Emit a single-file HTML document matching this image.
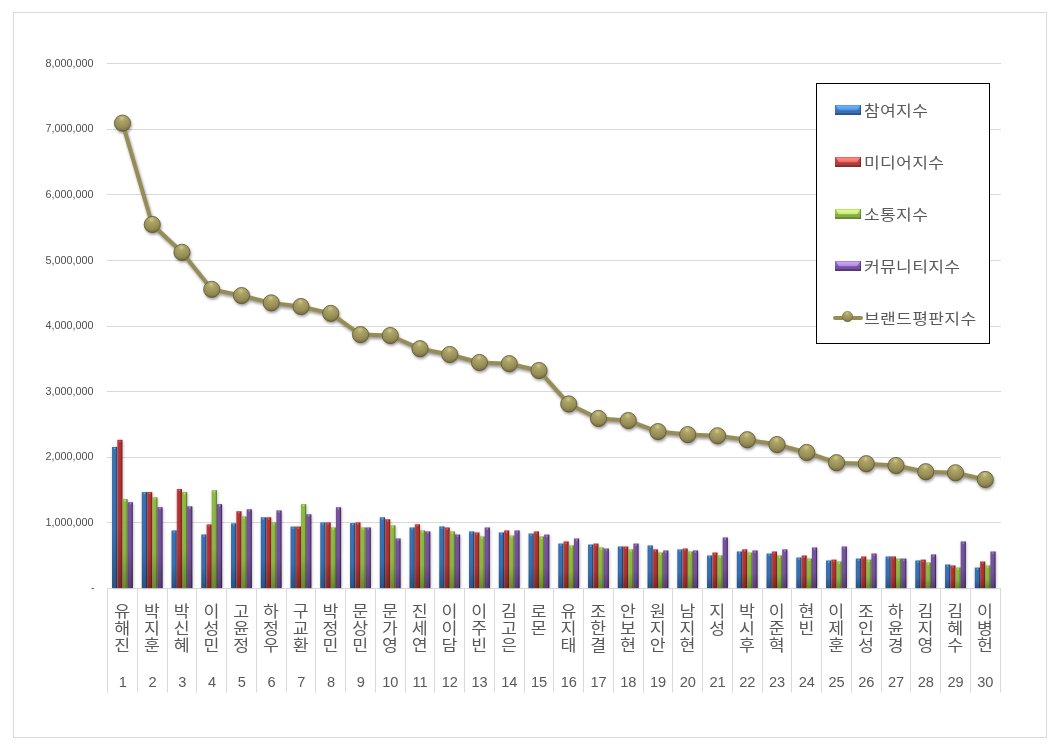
<!DOCTYPE html>
<html lang="ko"><head><meta charset="utf-8"><title>브랜드평판지수</title>
<style>html,body{margin:0;padding:0;background:#fff}body{width:1061px;height:748px;overflow:hidden}svg{display:block}text{font-family:'Liberation Sans','Noto Sans CJK KR',sans-serif}</style></head><body>
<svg width="1061" height="748" viewBox="0 0 1061 748">
<defs>
<linearGradient id="gb" x1="0" y1="0" x2="1" y2="0"><stop offset="0" stop-color="#33639f"/><stop offset="0.25" stop-color="#3874b8"/><stop offset="0.7" stop-color="#3571b5"/><stop offset="0.88" stop-color="#264672"/><stop offset="1" stop-color="#264672"/></linearGradient>
<linearGradient id="gr" x1="0" y1="0" x2="1" y2="0"><stop offset="0" stop-color="#b55a58"/><stop offset="0.25" stop-color="#b93535"/><stop offset="0.7" stop-color="#ae2f2f"/><stop offset="0.88" stop-color="#7e2422"/><stop offset="1" stop-color="#7e2422"/></linearGradient>
<linearGradient id="gg" x1="0" y1="0" x2="1" y2="0"><stop offset="0" stop-color="#84ab3e"/><stop offset="0.25" stop-color="#92bd45"/><stop offset="0.7" stop-color="#8bb53f"/><stop offset="0.88" stop-color="#62802e"/><stop offset="1" stop-color="#62802e"/></linearGradient>
<linearGradient id="gp" x1="0" y1="0" x2="1" y2="0"><stop offset="0" stop-color="#6a4a8e"/><stop offset="0.25" stop-color="#7a55a2"/><stop offset="0.7" stop-color="#734f9a"/><stop offset="0.88" stop-color="#452e64"/><stop offset="1" stop-color="#452e64"/></linearGradient>
<radialGradient id="mk" cx="0.47" cy="0.2" r="0.8"><stop offset="0" stop-color="#d0c98a"/><stop offset="0.24" stop-color="#aca468"/><stop offset="0.72" stop-color="#958c54"/><stop offset="0.92" stop-color="#7d7445"/><stop offset="1" stop-color="#625a34"/></radialGradient>
<filter id="sh" x="-20%" y="-20%" width="140%" height="140%"><feGaussianBlur stdDeviation="1.6"/></filter>
<filter id="sh2" x="-50%" y="-10%" width="200%" height="120%"><feGaussianBlur stdDeviation="1.8"/></filter>
<linearGradient id="sb" x1="0" y1="0" x2="0" y2="1"><stop offset="0" stop-color="#63a6f2"/><stop offset="0.45" stop-color="#63a6f2"/><stop offset="0.5" stop-color="#3b70b4"/><stop offset="1" stop-color="#2f5c98"/></linearGradient>
<linearGradient id="sr" x1="0" y1="0" x2="0" y2="1"><stop offset="0" stop-color="#f26b68"/><stop offset="0.45" stop-color="#f26b68"/><stop offset="0.5" stop-color="#c03c3a"/><stop offset="1" stop-color="#9b2f2d"/></linearGradient>
<linearGradient id="sg" x1="0" y1="0" x2="0" y2="1"><stop offset="0" stop-color="#c6ee6c"/><stop offset="0.45" stop-color="#c6ee6c"/><stop offset="0.5" stop-color="#94c043"/><stop offset="1" stop-color="#769a35"/></linearGradient>
<linearGradient id="sp" x1="0" y1="0" x2="0" y2="1"><stop offset="0" stop-color="#a783dc"/><stop offset="0.45" stop-color="#a783dc"/><stop offset="0.5" stop-color="#7a55a6"/><stop offset="1" stop-color="#5f4185"/></linearGradient>
<linearGradient id="dk" x1="0" y1="0" x2="0" y2="1"><stop offset="0" stop-color="#000" stop-opacity="0"/><stop offset="0.6" stop-color="#000" stop-opacity="0.03"/><stop offset="1" stop-color="#000" stop-opacity="0.27"/></linearGradient>
</defs>
<rect x="0" y="0" width="1061" height="748" fill="#fff"/>
<rect x="13.5" y="12.5" width="1033" height="725" fill="#fff" stroke="#d9d9d9" stroke-width="1"/>
<line x1="107.0" y1="588.5" x2="1001.0" y2="588.5" stroke="#d9d9d9" stroke-width="1"/>
<line x1="107.0" y1="522.5" x2="1001.0" y2="522.5" stroke="#d9d9d9" stroke-width="1"/>
<line x1="107.0" y1="457.5" x2="1001.0" y2="457.5" stroke="#d9d9d9" stroke-width="1"/>
<line x1="107.0" y1="391.5" x2="1001.0" y2="391.5" stroke="#d9d9d9" stroke-width="1"/>
<line x1="107.0" y1="326.5" x2="1001.0" y2="326.5" stroke="#d9d9d9" stroke-width="1"/>
<line x1="107.0" y1="260.5" x2="1001.0" y2="260.5" stroke="#d9d9d9" stroke-width="1"/>
<line x1="107.0" y1="194.5" x2="1001.0" y2="194.5" stroke="#d9d9d9" stroke-width="1"/>
<line x1="107.0" y1="129.5" x2="1001.0" y2="129.5" stroke="#d9d9d9" stroke-width="1"/>
<line x1="107.0" y1="63.5" x2="1001.0" y2="63.5" stroke="#d9d9d9" stroke-width="1"/>
<text x="94.40" y="591.30" font-size="10.5" fill="#4d4d4d" text-anchor="end">-</text>
<text transform="translate(93.60 525.60) scale(1.030 1)" font-size="10.5" fill="#4d4d4d" text-anchor="end">1,000,000</text>
<text transform="translate(93.60 459.60) scale(1.030 1)" font-size="10.5" fill="#4d4d4d" text-anchor="end">2,000,000</text>
<text transform="translate(93.60 394.60) scale(1.030 1)" font-size="10.5" fill="#4d4d4d" text-anchor="end">3,000,000</text>
<text transform="translate(93.60 328.60) scale(1.030 1)" font-size="10.5" fill="#4d4d4d" text-anchor="end">4,000,000</text>
<text transform="translate(93.60 263.60) scale(1.030 1)" font-size="10.5" fill="#4d4d4d" text-anchor="end">5,000,000</text>
<text transform="translate(93.60 197.60) scale(1.030 1)" font-size="10.5" fill="#4d4d4d" text-anchor="end">6,000,000</text>
<text transform="translate(93.60 131.60) scale(1.030 1)" font-size="10.5" fill="#4d4d4d" text-anchor="end">7,000,000</text>
<text transform="translate(93.60 66.60) scale(1.030 1)" font-size="10.5" fill="#4d4d4d" text-anchor="end">8,000,000</text>
<line x1="107.5" y1="588.5" x2="107.5" y2="692.5" stroke="#d9d9d9" stroke-width="1"/>
<line x1="137.5" y1="588.5" x2="137.5" y2="692.5" stroke="#d9d9d9" stroke-width="1"/>
<line x1="167.5" y1="588.5" x2="167.5" y2="692.5" stroke="#d9d9d9" stroke-width="1"/>
<line x1="196.5" y1="588.5" x2="196.5" y2="692.5" stroke="#d9d9d9" stroke-width="1"/>
<line x1="226.5" y1="588.5" x2="226.5" y2="692.5" stroke="#d9d9d9" stroke-width="1"/>
<line x1="256.5" y1="588.5" x2="256.5" y2="692.5" stroke="#d9d9d9" stroke-width="1"/>
<line x1="286.5" y1="588.5" x2="286.5" y2="692.5" stroke="#d9d9d9" stroke-width="1"/>
<line x1="315.5" y1="588.5" x2="315.5" y2="692.5" stroke="#d9d9d9" stroke-width="1"/>
<line x1="345.5" y1="588.5" x2="345.5" y2="692.5" stroke="#d9d9d9" stroke-width="1"/>
<line x1="375.5" y1="588.5" x2="375.5" y2="692.5" stroke="#d9d9d9" stroke-width="1"/>
<line x1="405.5" y1="588.5" x2="405.5" y2="692.5" stroke="#d9d9d9" stroke-width="1"/>
<line x1="434.5" y1="588.5" x2="434.5" y2="692.5" stroke="#d9d9d9" stroke-width="1"/>
<line x1="464.5" y1="588.5" x2="464.5" y2="692.5" stroke="#d9d9d9" stroke-width="1"/>
<line x1="494.5" y1="588.5" x2="494.5" y2="692.5" stroke="#d9d9d9" stroke-width="1"/>
<line x1="524.5" y1="588.5" x2="524.5" y2="692.5" stroke="#d9d9d9" stroke-width="1"/>
<line x1="553.5" y1="588.5" x2="553.5" y2="692.5" stroke="#d9d9d9" stroke-width="1"/>
<line x1="583.5" y1="588.5" x2="583.5" y2="692.5" stroke="#d9d9d9" stroke-width="1"/>
<line x1="613.5" y1="588.5" x2="613.5" y2="692.5" stroke="#d9d9d9" stroke-width="1"/>
<line x1="643.5" y1="588.5" x2="643.5" y2="692.5" stroke="#d9d9d9" stroke-width="1"/>
<line x1="672.5" y1="588.5" x2="672.5" y2="692.5" stroke="#d9d9d9" stroke-width="1"/>
<line x1="702.5" y1="588.5" x2="702.5" y2="692.5" stroke="#d9d9d9" stroke-width="1"/>
<line x1="732.5" y1="588.5" x2="732.5" y2="692.5" stroke="#d9d9d9" stroke-width="1"/>
<line x1="762.5" y1="588.5" x2="762.5" y2="692.5" stroke="#d9d9d9" stroke-width="1"/>
<line x1="791.5" y1="588.5" x2="791.5" y2="692.5" stroke="#d9d9d9" stroke-width="1"/>
<line x1="821.5" y1="588.5" x2="821.5" y2="692.5" stroke="#d9d9d9" stroke-width="1"/>
<line x1="851.5" y1="588.5" x2="851.5" y2="692.5" stroke="#d9d9d9" stroke-width="1"/>
<line x1="881.5" y1="588.5" x2="881.5" y2="692.5" stroke="#d9d9d9" stroke-width="1"/>
<line x1="910.5" y1="588.5" x2="910.5" y2="692.5" stroke="#d9d9d9" stroke-width="1"/>
<line x1="940.5" y1="588.5" x2="940.5" y2="692.5" stroke="#d9d9d9" stroke-width="1"/>
<line x1="970.5" y1="588.5" x2="970.5" y2="692.5" stroke="#d9d9d9" stroke-width="1"/>
<line x1="1000.5" y1="588.5" x2="1000.5" y2="692.5" stroke="#d9d9d9" stroke-width="1"/>
<g filter="url(#sh2)" fill="#000" fill-opacity="0.28">
<rect x="112.67" y="447.95" width="5.20" height="140.05"/>
<rect x="117.87" y="440.79" width="5.20" height="147.21"/>
<rect x="123.07" y="500.18" width="5.20" height="87.82"/>
<rect x="128.27" y="503.20" width="5.20" height="84.80"/>
<rect x="142.42" y="493.10" width="5.20" height="94.90"/>
<rect x="147.62" y="493.10" width="5.20" height="94.90"/>
<rect x="152.82" y="498.28" width="5.20" height="89.72"/>
<rect x="158.02" y="508.19" width="5.20" height="79.81"/>
<rect x="172.17" y="531.42" width="5.20" height="56.58"/>
<rect x="177.37" y="490.08" width="5.20" height="97.92"/>
<rect x="182.57" y="493.10" width="5.20" height="94.90"/>
<rect x="187.77" y="507.34" width="5.20" height="80.66"/>
<rect x="201.92" y="535.49" width="5.20" height="52.51"/>
<rect x="207.12" y="525.38" width="5.20" height="62.62"/>
<rect x="212.32" y="491.19" width="5.20" height="96.81"/>
<rect x="217.52" y="505.17" width="5.20" height="82.83"/>
<rect x="231.67" y="524.33" width="5.20" height="63.67"/>
<rect x="236.87" y="512.26" width="5.20" height="75.74"/>
<rect x="242.07" y="517.44" width="5.20" height="70.56"/>
<rect x="247.27" y="510.29" width="5.20" height="77.71"/>
<rect x="261.43" y="518.30" width="5.20" height="69.70"/>
<rect x="266.63" y="518.30" width="5.20" height="69.70"/>
<rect x="271.83" y="523.42" width="5.20" height="64.58"/>
<rect x="277.03" y="511.41" width="5.20" height="76.59"/>
<rect x="291.18" y="527.55" width="5.20" height="60.45"/>
<rect x="296.38" y="527.55" width="5.20" height="60.45"/>
<rect x="301.58" y="505.17" width="5.20" height="82.83"/>
<rect x="306.78" y="515.28" width="5.20" height="72.72"/>
<rect x="320.93" y="523.42" width="5.20" height="64.58"/>
<rect x="326.13" y="523.42" width="5.20" height="64.58"/>
<rect x="331.33" y="528.47" width="5.20" height="59.53"/>
<rect x="336.53" y="508.26" width="5.20" height="79.74"/>
<rect x="350.68" y="524.14" width="5.20" height="63.86"/>
<rect x="355.88" y="523.42" width="5.20" height="64.58"/>
<rect x="361.08" y="528.47" width="5.20" height="59.53"/>
<rect x="366.28" y="528.47" width="5.20" height="59.53"/>
<rect x="380.43" y="518.30" width="5.20" height="69.70"/>
<rect x="385.63" y="520.33" width="5.20" height="67.67"/>
<rect x="390.83" y="526.37" width="5.20" height="61.63"/>
<rect x="396.03" y="539.49" width="5.20" height="48.51"/>
<rect x="410.18" y="528.47" width="5.20" height="59.53"/>
<rect x="415.38" y="525.32" width="5.20" height="62.68"/>
<rect x="420.58" y="531.42" width="5.20" height="56.58"/>
<rect x="425.78" y="532.41" width="5.20" height="55.59"/>
<rect x="439.93" y="527.42" width="5.20" height="60.58"/>
<rect x="445.13" y="528.47" width="5.20" height="59.53"/>
<rect x="450.33" y="532.41" width="5.20" height="55.59"/>
<rect x="455.53" y="535.56" width="5.20" height="52.44"/>
<rect x="469.68" y="532.41" width="5.20" height="55.59"/>
<rect x="474.88" y="533.46" width="5.20" height="54.54"/>
<rect x="480.08" y="537.46" width="5.20" height="50.54"/>
<rect x="485.28" y="528.47" width="5.20" height="59.53"/>
<rect x="499.43" y="533.46" width="5.20" height="54.54"/>
<rect x="504.63" y="531.42" width="5.20" height="56.58"/>
<rect x="509.83" y="536.54" width="5.20" height="51.46"/>
<rect x="515.03" y="531.42" width="5.20" height="56.58"/>
<rect x="529.18" y="534.51" width="5.20" height="53.49"/>
<rect x="534.38" y="532.41" width="5.20" height="55.59"/>
<rect x="539.58" y="537.46" width="5.20" height="50.54"/>
<rect x="544.78" y="535.56" width="5.20" height="52.44"/>
<rect x="558.93" y="544.55" width="5.20" height="43.45"/>
<rect x="564.13" y="542.45" width="5.20" height="45.55"/>
<rect x="569.33" y="546.45" width="5.20" height="41.55"/>
<rect x="574.53" y="539.49" width="5.20" height="48.51"/>
<rect x="588.68" y="545.53" width="5.20" height="42.47"/>
<rect x="593.88" y="544.55" width="5.20" height="43.45"/>
<rect x="599.08" y="548.48" width="5.20" height="39.52"/>
<rect x="604.28" y="549.53" width="5.20" height="38.47"/>
<rect x="618.43" y="547.50" width="5.20" height="40.50"/>
<rect x="623.63" y="547.50" width="5.20" height="40.50"/>
<rect x="628.83" y="550.39" width="5.20" height="37.61"/>
<rect x="634.03" y="544.55" width="5.20" height="43.45"/>
<rect x="648.18" y="546.45" width="5.20" height="41.55"/>
<rect x="653.38" y="550.39" width="5.20" height="37.61"/>
<rect x="658.58" y="553.54" width="5.20" height="34.46"/>
<rect x="663.78" y="551.44" width="5.20" height="36.56"/>
<rect x="677.93" y="550.39" width="5.20" height="37.61"/>
<rect x="683.13" y="549.53" width="5.20" height="38.47"/>
<rect x="688.33" y="552.49" width="5.20" height="35.51"/>
<rect x="693.53" y="551.44" width="5.20" height="36.56"/>
<rect x="707.68" y="556.49" width="5.20" height="31.51"/>
<rect x="712.88" y="553.54" width="5.20" height="34.46"/>
<rect x="718.08" y="556.49" width="5.20" height="31.51"/>
<rect x="723.28" y="538.44" width="5.20" height="49.56"/>
<rect x="737.43" y="552.49" width="5.20" height="35.51"/>
<rect x="742.63" y="550.39" width="5.20" height="37.61"/>
<rect x="747.83" y="553.54" width="5.20" height="34.46"/>
<rect x="753.03" y="551.44" width="5.20" height="36.56"/>
<rect x="767.18" y="554.52" width="5.20" height="33.48"/>
<rect x="772.38" y="552.49" width="5.20" height="35.51"/>
<rect x="777.58" y="556.49" width="5.20" height="31.51"/>
<rect x="782.78" y="550.39" width="5.20" height="37.61"/>
<rect x="796.93" y="558.52" width="5.20" height="29.48"/>
<rect x="802.13" y="556.49" width="5.20" height="31.51"/>
<rect x="807.33" y="559.58" width="5.20" height="28.42"/>
<rect x="812.53" y="548.48" width="5.20" height="39.52"/>
<rect x="826.68" y="561.48" width="5.20" height="26.52"/>
<rect x="831.88" y="560.62" width="5.20" height="27.38"/>
<rect x="837.08" y="562.53" width="5.20" height="25.47"/>
<rect x="842.28" y="547.50" width="5.20" height="40.50"/>
<rect x="856.43" y="559.58" width="5.20" height="28.42"/>
<rect x="861.63" y="557.48" width="5.20" height="30.52"/>
<rect x="866.83" y="560.62" width="5.20" height="27.38"/>
<rect x="872.03" y="554.52" width="5.20" height="33.48"/>
<rect x="886.18" y="557.48" width="5.20" height="30.52"/>
<rect x="891.38" y="557.48" width="5.20" height="30.52"/>
<rect x="896.58" y="559.58" width="5.20" height="28.42"/>
<rect x="901.78" y="559.58" width="5.20" height="28.42"/>
<rect x="915.93" y="561.48" width="5.20" height="26.52"/>
<rect x="921.13" y="560.62" width="5.20" height="27.38"/>
<rect x="926.33" y="563.51" width="5.20" height="24.49"/>
<rect x="931.53" y="555.44" width="5.20" height="32.56"/>
<rect x="945.68" y="565.48" width="5.20" height="22.52"/>
<rect x="950.88" y="566.47" width="5.20" height="21.53"/>
<rect x="956.08" y="568.57" width="5.20" height="19.43"/>
<rect x="961.28" y="542.45" width="5.20" height="45.55"/>
<rect x="975.43" y="568.57" width="5.20" height="19.43"/>
<rect x="980.63" y="562.53" width="5.20" height="25.47"/>
<rect x="985.83" y="566.47" width="5.20" height="21.53"/>
<rect x="991.03" y="552.49" width="5.20" height="35.51"/>
</g>
<rect x="112.07" y="446.95" width="5.20" height="141.05" fill="url(#gb)"/>
<rect x="112.07" y="446.95" width="5.20" height="141.05" fill="url(#dk)"/>
<rect x="117.27" y="439.79" width="5.20" height="148.21" fill="url(#gr)"/>
<rect x="117.27" y="439.79" width="5.20" height="148.21" fill="url(#dk)"/>
<rect x="122.47" y="499.18" width="5.20" height="88.82" fill="url(#gg)"/>
<rect x="122.47" y="499.18" width="5.20" height="88.82" fill="url(#dk)"/>
<rect x="127.67" y="502.20" width="5.20" height="85.80" fill="url(#gp)"/>
<rect x="127.67" y="502.20" width="5.20" height="85.80" fill="url(#dk)"/>
<rect x="141.82" y="492.10" width="5.20" height="95.90" fill="url(#gb)"/>
<rect x="141.82" y="492.10" width="5.20" height="95.90" fill="url(#dk)"/>
<rect x="147.02" y="492.10" width="5.20" height="95.90" fill="url(#gr)"/>
<rect x="147.02" y="492.10" width="5.20" height="95.90" fill="url(#dk)"/>
<rect x="152.22" y="497.28" width="5.20" height="90.72" fill="url(#gg)"/>
<rect x="152.22" y="497.28" width="5.20" height="90.72" fill="url(#dk)"/>
<rect x="157.42" y="507.19" width="5.20" height="80.81" fill="url(#gp)"/>
<rect x="157.42" y="507.19" width="5.20" height="80.81" fill="url(#dk)"/>
<rect x="171.57" y="530.42" width="5.20" height="57.58" fill="url(#gb)"/>
<rect x="171.57" y="530.42" width="5.20" height="57.58" fill="url(#dk)"/>
<rect x="176.77" y="489.08" width="5.20" height="98.92" fill="url(#gr)"/>
<rect x="176.77" y="489.08" width="5.20" height="98.92" fill="url(#dk)"/>
<rect x="181.97" y="492.10" width="5.20" height="95.90" fill="url(#gg)"/>
<rect x="181.97" y="492.10" width="5.20" height="95.90" fill="url(#dk)"/>
<rect x="187.17" y="506.34" width="5.20" height="81.66" fill="url(#gp)"/>
<rect x="187.17" y="506.34" width="5.20" height="81.66" fill="url(#dk)"/>
<rect x="201.32" y="534.49" width="5.20" height="53.51" fill="url(#gb)"/>
<rect x="201.32" y="534.49" width="5.20" height="53.51" fill="url(#dk)"/>
<rect x="206.52" y="524.38" width="5.20" height="63.62" fill="url(#gr)"/>
<rect x="206.52" y="524.38" width="5.20" height="63.62" fill="url(#dk)"/>
<rect x="211.72" y="490.19" width="5.20" height="97.81" fill="url(#gg)"/>
<rect x="211.72" y="490.19" width="5.20" height="97.81" fill="url(#dk)"/>
<rect x="216.92" y="504.17" width="5.20" height="83.83" fill="url(#gp)"/>
<rect x="216.92" y="504.17" width="5.20" height="83.83" fill="url(#dk)"/>
<rect x="231.07" y="523.33" width="5.20" height="64.67" fill="url(#gb)"/>
<rect x="231.07" y="523.33" width="5.20" height="64.67" fill="url(#dk)"/>
<rect x="236.27" y="511.26" width="5.20" height="76.74" fill="url(#gr)"/>
<rect x="236.27" y="511.26" width="5.20" height="76.74" fill="url(#dk)"/>
<rect x="241.47" y="516.44" width="5.20" height="71.56" fill="url(#gg)"/>
<rect x="241.47" y="516.44" width="5.20" height="71.56" fill="url(#dk)"/>
<rect x="246.67" y="509.29" width="5.20" height="78.71" fill="url(#gp)"/>
<rect x="246.67" y="509.29" width="5.20" height="78.71" fill="url(#dk)"/>
<rect x="260.83" y="517.30" width="5.20" height="70.70" fill="url(#gb)"/>
<rect x="260.83" y="517.30" width="5.20" height="70.70" fill="url(#dk)"/>
<rect x="266.03" y="517.30" width="5.20" height="70.70" fill="url(#gr)"/>
<rect x="266.03" y="517.30" width="5.20" height="70.70" fill="url(#dk)"/>
<rect x="271.23" y="522.42" width="5.20" height="65.58" fill="url(#gg)"/>
<rect x="271.23" y="522.42" width="5.20" height="65.58" fill="url(#dk)"/>
<rect x="276.43" y="510.41" width="5.20" height="77.59" fill="url(#gp)"/>
<rect x="276.43" y="510.41" width="5.20" height="77.59" fill="url(#dk)"/>
<rect x="290.58" y="526.55" width="5.20" height="61.45" fill="url(#gb)"/>
<rect x="290.58" y="526.55" width="5.20" height="61.45" fill="url(#dk)"/>
<rect x="295.78" y="526.55" width="5.20" height="61.45" fill="url(#gr)"/>
<rect x="295.78" y="526.55" width="5.20" height="61.45" fill="url(#dk)"/>
<rect x="300.98" y="504.17" width="5.20" height="83.83" fill="url(#gg)"/>
<rect x="300.98" y="504.17" width="5.20" height="83.83" fill="url(#dk)"/>
<rect x="306.18" y="514.28" width="5.20" height="73.72" fill="url(#gp)"/>
<rect x="306.18" y="514.28" width="5.20" height="73.72" fill="url(#dk)"/>
<rect x="320.33" y="522.42" width="5.20" height="65.58" fill="url(#gb)"/>
<rect x="320.33" y="522.42" width="5.20" height="65.58" fill="url(#dk)"/>
<rect x="325.53" y="522.42" width="5.20" height="65.58" fill="url(#gr)"/>
<rect x="325.53" y="522.42" width="5.20" height="65.58" fill="url(#dk)"/>
<rect x="330.73" y="527.47" width="5.20" height="60.53" fill="url(#gg)"/>
<rect x="330.73" y="527.47" width="5.20" height="60.53" fill="url(#dk)"/>
<rect x="335.93" y="507.26" width="5.20" height="80.74" fill="url(#gp)"/>
<rect x="335.93" y="507.26" width="5.20" height="80.74" fill="url(#dk)"/>
<rect x="350.08" y="523.14" width="5.20" height="64.86" fill="url(#gb)"/>
<rect x="350.08" y="523.14" width="5.20" height="64.86" fill="url(#dk)"/>
<rect x="355.28" y="522.42" width="5.20" height="65.58" fill="url(#gr)"/>
<rect x="355.28" y="522.42" width="5.20" height="65.58" fill="url(#dk)"/>
<rect x="360.48" y="527.47" width="5.20" height="60.53" fill="url(#gg)"/>
<rect x="360.48" y="527.47" width="5.20" height="60.53" fill="url(#dk)"/>
<rect x="365.68" y="527.47" width="5.20" height="60.53" fill="url(#gp)"/>
<rect x="365.68" y="527.47" width="5.20" height="60.53" fill="url(#dk)"/>
<rect x="379.83" y="517.30" width="5.20" height="70.70" fill="url(#gb)"/>
<rect x="379.83" y="517.30" width="5.20" height="70.70" fill="url(#dk)"/>
<rect x="385.03" y="519.33" width="5.20" height="68.67" fill="url(#gr)"/>
<rect x="385.03" y="519.33" width="5.20" height="68.67" fill="url(#dk)"/>
<rect x="390.23" y="525.37" width="5.20" height="62.63" fill="url(#gg)"/>
<rect x="390.23" y="525.37" width="5.20" height="62.63" fill="url(#dk)"/>
<rect x="395.43" y="538.49" width="5.20" height="49.51" fill="url(#gp)"/>
<rect x="395.43" y="538.49" width="5.20" height="49.51" fill="url(#dk)"/>
<rect x="409.58" y="527.47" width="5.20" height="60.53" fill="url(#gb)"/>
<rect x="409.58" y="527.47" width="5.20" height="60.53" fill="url(#dk)"/>
<rect x="414.78" y="524.32" width="5.20" height="63.68" fill="url(#gr)"/>
<rect x="414.78" y="524.32" width="5.20" height="63.68" fill="url(#dk)"/>
<rect x="419.98" y="530.42" width="5.20" height="57.58" fill="url(#gg)"/>
<rect x="419.98" y="530.42" width="5.20" height="57.58" fill="url(#dk)"/>
<rect x="425.18" y="531.41" width="5.20" height="56.59" fill="url(#gp)"/>
<rect x="425.18" y="531.41" width="5.20" height="56.59" fill="url(#dk)"/>
<rect x="439.33" y="526.42" width="5.20" height="61.58" fill="url(#gb)"/>
<rect x="439.33" y="526.42" width="5.20" height="61.58" fill="url(#dk)"/>
<rect x="444.53" y="527.47" width="5.20" height="60.53" fill="url(#gr)"/>
<rect x="444.53" y="527.47" width="5.20" height="60.53" fill="url(#dk)"/>
<rect x="449.73" y="531.41" width="5.20" height="56.59" fill="url(#gg)"/>
<rect x="449.73" y="531.41" width="5.20" height="56.59" fill="url(#dk)"/>
<rect x="454.93" y="534.56" width="5.20" height="53.44" fill="url(#gp)"/>
<rect x="454.93" y="534.56" width="5.20" height="53.44" fill="url(#dk)"/>
<rect x="469.08" y="531.41" width="5.20" height="56.59" fill="url(#gb)"/>
<rect x="469.08" y="531.41" width="5.20" height="56.59" fill="url(#dk)"/>
<rect x="474.28" y="532.46" width="5.20" height="55.54" fill="url(#gr)"/>
<rect x="474.28" y="532.46" width="5.20" height="55.54" fill="url(#dk)"/>
<rect x="479.48" y="536.46" width="5.20" height="51.54" fill="url(#gg)"/>
<rect x="479.48" y="536.46" width="5.20" height="51.54" fill="url(#dk)"/>
<rect x="484.68" y="527.47" width="5.20" height="60.53" fill="url(#gp)"/>
<rect x="484.68" y="527.47" width="5.20" height="60.53" fill="url(#dk)"/>
<rect x="498.83" y="532.46" width="5.20" height="55.54" fill="url(#gb)"/>
<rect x="498.83" y="532.46" width="5.20" height="55.54" fill="url(#dk)"/>
<rect x="504.03" y="530.42" width="5.20" height="57.58" fill="url(#gr)"/>
<rect x="504.03" y="530.42" width="5.20" height="57.58" fill="url(#dk)"/>
<rect x="509.23" y="535.54" width="5.20" height="52.46" fill="url(#gg)"/>
<rect x="509.23" y="535.54" width="5.20" height="52.46" fill="url(#dk)"/>
<rect x="514.43" y="530.42" width="5.20" height="57.58" fill="url(#gp)"/>
<rect x="514.43" y="530.42" width="5.20" height="57.58" fill="url(#dk)"/>
<rect x="528.58" y="533.51" width="5.20" height="54.49" fill="url(#gb)"/>
<rect x="528.58" y="533.51" width="5.20" height="54.49" fill="url(#dk)"/>
<rect x="533.78" y="531.41" width="5.20" height="56.59" fill="url(#gr)"/>
<rect x="533.78" y="531.41" width="5.20" height="56.59" fill="url(#dk)"/>
<rect x="538.98" y="536.46" width="5.20" height="51.54" fill="url(#gg)"/>
<rect x="538.98" y="536.46" width="5.20" height="51.54" fill="url(#dk)"/>
<rect x="544.18" y="534.56" width="5.20" height="53.44" fill="url(#gp)"/>
<rect x="544.18" y="534.56" width="5.20" height="53.44" fill="url(#dk)"/>
<rect x="558.33" y="543.55" width="5.20" height="44.45" fill="url(#gb)"/>
<rect x="558.33" y="543.55" width="5.20" height="44.45" fill="url(#dk)"/>
<rect x="563.53" y="541.45" width="5.20" height="46.55" fill="url(#gr)"/>
<rect x="563.53" y="541.45" width="5.20" height="46.55" fill="url(#dk)"/>
<rect x="568.73" y="545.45" width="5.20" height="42.55" fill="url(#gg)"/>
<rect x="568.73" y="545.45" width="5.20" height="42.55" fill="url(#dk)"/>
<rect x="573.93" y="538.49" width="5.20" height="49.51" fill="url(#gp)"/>
<rect x="573.93" y="538.49" width="5.20" height="49.51" fill="url(#dk)"/>
<rect x="588.08" y="544.53" width="5.20" height="43.47" fill="url(#gb)"/>
<rect x="588.08" y="544.53" width="5.20" height="43.47" fill="url(#dk)"/>
<rect x="593.28" y="543.55" width="5.20" height="44.45" fill="url(#gr)"/>
<rect x="593.28" y="543.55" width="5.20" height="44.45" fill="url(#dk)"/>
<rect x="598.48" y="547.48" width="5.20" height="40.52" fill="url(#gg)"/>
<rect x="598.48" y="547.48" width="5.20" height="40.52" fill="url(#dk)"/>
<rect x="603.68" y="548.53" width="5.20" height="39.47" fill="url(#gp)"/>
<rect x="603.68" y="548.53" width="5.20" height="39.47" fill="url(#dk)"/>
<rect x="617.83" y="546.50" width="5.20" height="41.50" fill="url(#gb)"/>
<rect x="617.83" y="546.50" width="5.20" height="41.50" fill="url(#dk)"/>
<rect x="623.03" y="546.50" width="5.20" height="41.50" fill="url(#gr)"/>
<rect x="623.03" y="546.50" width="5.20" height="41.50" fill="url(#dk)"/>
<rect x="628.23" y="549.39" width="5.20" height="38.61" fill="url(#gg)"/>
<rect x="628.23" y="549.39" width="5.20" height="38.61" fill="url(#dk)"/>
<rect x="633.43" y="543.55" width="5.20" height="44.45" fill="url(#gp)"/>
<rect x="633.43" y="543.55" width="5.20" height="44.45" fill="url(#dk)"/>
<rect x="647.58" y="545.45" width="5.20" height="42.55" fill="url(#gb)"/>
<rect x="647.58" y="545.45" width="5.20" height="42.55" fill="url(#dk)"/>
<rect x="652.78" y="549.39" width="5.20" height="38.61" fill="url(#gr)"/>
<rect x="652.78" y="549.39" width="5.20" height="38.61" fill="url(#dk)"/>
<rect x="657.98" y="552.54" width="5.20" height="35.46" fill="url(#gg)"/>
<rect x="657.98" y="552.54" width="5.20" height="35.46" fill="url(#dk)"/>
<rect x="663.18" y="550.44" width="5.20" height="37.56" fill="url(#gp)"/>
<rect x="663.18" y="550.44" width="5.20" height="37.56" fill="url(#dk)"/>
<rect x="677.33" y="549.39" width="5.20" height="38.61" fill="url(#gb)"/>
<rect x="677.33" y="549.39" width="5.20" height="38.61" fill="url(#dk)"/>
<rect x="682.53" y="548.53" width="5.20" height="39.47" fill="url(#gr)"/>
<rect x="682.53" y="548.53" width="5.20" height="39.47" fill="url(#dk)"/>
<rect x="687.73" y="551.49" width="5.20" height="36.51" fill="url(#gg)"/>
<rect x="687.73" y="551.49" width="5.20" height="36.51" fill="url(#dk)"/>
<rect x="692.93" y="550.44" width="5.20" height="37.56" fill="url(#gp)"/>
<rect x="692.93" y="550.44" width="5.20" height="37.56" fill="url(#dk)"/>
<rect x="707.08" y="555.49" width="5.20" height="32.51" fill="url(#gb)"/>
<rect x="707.08" y="555.49" width="5.20" height="32.51" fill="url(#dk)"/>
<rect x="712.28" y="552.54" width="5.20" height="35.46" fill="url(#gr)"/>
<rect x="712.28" y="552.54" width="5.20" height="35.46" fill="url(#dk)"/>
<rect x="717.48" y="555.49" width="5.20" height="32.51" fill="url(#gg)"/>
<rect x="717.48" y="555.49" width="5.20" height="32.51" fill="url(#dk)"/>
<rect x="722.68" y="537.44" width="5.20" height="50.56" fill="url(#gp)"/>
<rect x="722.68" y="537.44" width="5.20" height="50.56" fill="url(#dk)"/>
<rect x="736.83" y="551.49" width="5.20" height="36.51" fill="url(#gb)"/>
<rect x="736.83" y="551.49" width="5.20" height="36.51" fill="url(#dk)"/>
<rect x="742.03" y="549.39" width="5.20" height="38.61" fill="url(#gr)"/>
<rect x="742.03" y="549.39" width="5.20" height="38.61" fill="url(#dk)"/>
<rect x="747.23" y="552.54" width="5.20" height="35.46" fill="url(#gg)"/>
<rect x="747.23" y="552.54" width="5.20" height="35.46" fill="url(#dk)"/>
<rect x="752.43" y="550.44" width="5.20" height="37.56" fill="url(#gp)"/>
<rect x="752.43" y="550.44" width="5.20" height="37.56" fill="url(#dk)"/>
<rect x="766.58" y="553.52" width="5.20" height="34.48" fill="url(#gb)"/>
<rect x="766.58" y="553.52" width="5.20" height="34.48" fill="url(#dk)"/>
<rect x="771.78" y="551.49" width="5.20" height="36.51" fill="url(#gr)"/>
<rect x="771.78" y="551.49" width="5.20" height="36.51" fill="url(#dk)"/>
<rect x="776.98" y="555.49" width="5.20" height="32.51" fill="url(#gg)"/>
<rect x="776.98" y="555.49" width="5.20" height="32.51" fill="url(#dk)"/>
<rect x="782.18" y="549.39" width="5.20" height="38.61" fill="url(#gp)"/>
<rect x="782.18" y="549.39" width="5.20" height="38.61" fill="url(#dk)"/>
<rect x="796.33" y="557.52" width="5.20" height="30.48" fill="url(#gb)"/>
<rect x="796.33" y="557.52" width="5.20" height="30.48" fill="url(#dk)"/>
<rect x="801.53" y="555.49" width="5.20" height="32.51" fill="url(#gr)"/>
<rect x="801.53" y="555.49" width="5.20" height="32.51" fill="url(#dk)"/>
<rect x="806.73" y="558.58" width="5.20" height="29.42" fill="url(#gg)"/>
<rect x="806.73" y="558.58" width="5.20" height="29.42" fill="url(#dk)"/>
<rect x="811.93" y="547.48" width="5.20" height="40.52" fill="url(#gp)"/>
<rect x="811.93" y="547.48" width="5.20" height="40.52" fill="url(#dk)"/>
<rect x="826.08" y="560.48" width="5.20" height="27.52" fill="url(#gb)"/>
<rect x="826.08" y="560.48" width="5.20" height="27.52" fill="url(#dk)"/>
<rect x="831.28" y="559.62" width="5.20" height="28.38" fill="url(#gr)"/>
<rect x="831.28" y="559.62" width="5.20" height="28.38" fill="url(#dk)"/>
<rect x="836.48" y="561.53" width="5.20" height="26.47" fill="url(#gg)"/>
<rect x="836.48" y="561.53" width="5.20" height="26.47" fill="url(#dk)"/>
<rect x="841.68" y="546.50" width="5.20" height="41.50" fill="url(#gp)"/>
<rect x="841.68" y="546.50" width="5.20" height="41.50" fill="url(#dk)"/>
<rect x="855.83" y="558.58" width="5.20" height="29.42" fill="url(#gb)"/>
<rect x="855.83" y="558.58" width="5.20" height="29.42" fill="url(#dk)"/>
<rect x="861.03" y="556.48" width="5.20" height="31.52" fill="url(#gr)"/>
<rect x="861.03" y="556.48" width="5.20" height="31.52" fill="url(#dk)"/>
<rect x="866.23" y="559.62" width="5.20" height="28.38" fill="url(#gg)"/>
<rect x="866.23" y="559.62" width="5.20" height="28.38" fill="url(#dk)"/>
<rect x="871.43" y="553.52" width="5.20" height="34.48" fill="url(#gp)"/>
<rect x="871.43" y="553.52" width="5.20" height="34.48" fill="url(#dk)"/>
<rect x="885.58" y="556.48" width="5.20" height="31.52" fill="url(#gb)"/>
<rect x="885.58" y="556.48" width="5.20" height="31.52" fill="url(#dk)"/>
<rect x="890.78" y="556.48" width="5.20" height="31.52" fill="url(#gr)"/>
<rect x="890.78" y="556.48" width="5.20" height="31.52" fill="url(#dk)"/>
<rect x="895.98" y="558.58" width="5.20" height="29.42" fill="url(#gg)"/>
<rect x="895.98" y="558.58" width="5.20" height="29.42" fill="url(#dk)"/>
<rect x="901.18" y="558.58" width="5.20" height="29.42" fill="url(#gp)"/>
<rect x="901.18" y="558.58" width="5.20" height="29.42" fill="url(#dk)"/>
<rect x="915.33" y="560.48" width="5.20" height="27.52" fill="url(#gb)"/>
<rect x="915.33" y="560.48" width="5.20" height="27.52" fill="url(#dk)"/>
<rect x="920.53" y="559.62" width="5.20" height="28.38" fill="url(#gr)"/>
<rect x="920.53" y="559.62" width="5.20" height="28.38" fill="url(#dk)"/>
<rect x="925.73" y="562.51" width="5.20" height="25.49" fill="url(#gg)"/>
<rect x="925.73" y="562.51" width="5.20" height="25.49" fill="url(#dk)"/>
<rect x="930.93" y="554.44" width="5.20" height="33.56" fill="url(#gp)"/>
<rect x="930.93" y="554.44" width="5.20" height="33.56" fill="url(#dk)"/>
<rect x="945.08" y="564.48" width="5.20" height="23.52" fill="url(#gb)"/>
<rect x="945.08" y="564.48" width="5.20" height="23.52" fill="url(#dk)"/>
<rect x="950.28" y="565.47" width="5.20" height="22.53" fill="url(#gr)"/>
<rect x="950.28" y="565.47" width="5.20" height="22.53" fill="url(#dk)"/>
<rect x="955.48" y="567.57" width="5.20" height="20.43" fill="url(#gg)"/>
<rect x="955.48" y="567.57" width="5.20" height="20.43" fill="url(#dk)"/>
<rect x="960.68" y="541.45" width="5.20" height="46.55" fill="url(#gp)"/>
<rect x="960.68" y="541.45" width="5.20" height="46.55" fill="url(#dk)"/>
<rect x="974.83" y="567.57" width="5.20" height="20.43" fill="url(#gb)"/>
<rect x="974.83" y="567.57" width="5.20" height="20.43" fill="url(#dk)"/>
<rect x="980.03" y="561.53" width="5.20" height="26.47" fill="url(#gr)"/>
<rect x="980.03" y="561.53" width="5.20" height="26.47" fill="url(#dk)"/>
<rect x="985.23" y="565.47" width="5.20" height="22.53" fill="url(#gg)"/>
<rect x="985.23" y="565.47" width="5.20" height="22.53" fill="url(#dk)"/>
<rect x="990.43" y="551.49" width="5.20" height="36.51" fill="url(#gp)"/>
<rect x="990.43" y="551.49" width="5.20" height="36.51" fill="url(#dk)"/>
<rect x="113.97" y="447.95" width="1.4" height="1.1" fill="#8fc4ff" fill-opacity="0.8"/>
<rect x="119.17" y="440.79" width="1.4" height="1.1" fill="#ff8a88" fill-opacity="0.8"/>
<rect x="124.37" y="500.18" width="1.4" height="1.1" fill="#e0ff8a" fill-opacity="0.8"/>
<rect x="129.57" y="503.20" width="1.4" height="1.1" fill="#d0a8ff" fill-opacity="0.8"/>
<rect x="143.72" y="493.10" width="1.4" height="1.1" fill="#8fc4ff" fill-opacity="0.8"/>
<rect x="148.92" y="493.10" width="1.4" height="1.1" fill="#ff8a88" fill-opacity="0.8"/>
<rect x="154.12" y="498.28" width="1.4" height="1.1" fill="#e0ff8a" fill-opacity="0.8"/>
<rect x="159.32" y="508.19" width="1.4" height="1.1" fill="#d0a8ff" fill-opacity="0.8"/>
<rect x="173.47" y="531.42" width="1.4" height="1.1" fill="#8fc4ff" fill-opacity="0.8"/>
<rect x="178.67" y="490.08" width="1.4" height="1.1" fill="#ff8a88" fill-opacity="0.8"/>
<rect x="183.88" y="493.10" width="1.4" height="1.1" fill="#e0ff8a" fill-opacity="0.8"/>
<rect x="189.07" y="507.34" width="1.4" height="1.1" fill="#d0a8ff" fill-opacity="0.8"/>
<rect x="203.22" y="535.49" width="1.4" height="1.1" fill="#8fc4ff" fill-opacity="0.8"/>
<rect x="208.42" y="525.38" width="1.4" height="1.1" fill="#ff8a88" fill-opacity="0.8"/>
<rect x="213.62" y="491.19" width="1.4" height="1.1" fill="#e0ff8a" fill-opacity="0.8"/>
<rect x="218.82" y="505.17" width="1.4" height="1.1" fill="#d0a8ff" fill-opacity="0.8"/>
<rect x="232.97" y="524.33" width="1.4" height="1.1" fill="#8fc4ff" fill-opacity="0.8"/>
<rect x="238.17" y="512.26" width="1.4" height="1.1" fill="#ff8a88" fill-opacity="0.8"/>
<rect x="243.38" y="517.44" width="1.4" height="1.1" fill="#e0ff8a" fill-opacity="0.8"/>
<rect x="248.57" y="510.29" width="1.4" height="1.1" fill="#d0a8ff" fill-opacity="0.8"/>
<rect x="262.73" y="518.30" width="1.4" height="1.1" fill="#8fc4ff" fill-opacity="0.8"/>
<rect x="267.93" y="518.30" width="1.4" height="1.1" fill="#ff8a88" fill-opacity="0.8"/>
<rect x="273.13" y="523.42" width="1.4" height="1.1" fill="#e0ff8a" fill-opacity="0.8"/>
<rect x="278.33" y="511.41" width="1.4" height="1.1" fill="#d0a8ff" fill-opacity="0.8"/>
<rect x="292.48" y="527.55" width="1.4" height="1.1" fill="#8fc4ff" fill-opacity="0.8"/>
<rect x="297.68" y="527.55" width="1.4" height="1.1" fill="#ff8a88" fill-opacity="0.8"/>
<rect x="302.88" y="505.17" width="1.4" height="1.1" fill="#e0ff8a" fill-opacity="0.8"/>
<rect x="308.08" y="515.28" width="1.4" height="1.1" fill="#d0a8ff" fill-opacity="0.8"/>
<rect x="322.23" y="523.42" width="1.4" height="1.1" fill="#8fc4ff" fill-opacity="0.8"/>
<rect x="327.43" y="523.42" width="1.4" height="1.1" fill="#ff8a88" fill-opacity="0.8"/>
<rect x="332.63" y="528.47" width="1.4" height="1.1" fill="#e0ff8a" fill-opacity="0.8"/>
<rect x="337.83" y="508.26" width="1.4" height="1.1" fill="#d0a8ff" fill-opacity="0.8"/>
<rect x="351.98" y="524.14" width="1.4" height="1.1" fill="#8fc4ff" fill-opacity="0.8"/>
<rect x="357.18" y="523.42" width="1.4" height="1.1" fill="#ff8a88" fill-opacity="0.8"/>
<rect x="362.38" y="528.47" width="1.4" height="1.1" fill="#e0ff8a" fill-opacity="0.8"/>
<rect x="367.58" y="528.47" width="1.4" height="1.1" fill="#d0a8ff" fill-opacity="0.8"/>
<rect x="381.73" y="518.30" width="1.4" height="1.1" fill="#8fc4ff" fill-opacity="0.8"/>
<rect x="386.93" y="520.33" width="1.4" height="1.1" fill="#ff8a88" fill-opacity="0.8"/>
<rect x="392.13" y="526.37" width="1.4" height="1.1" fill="#e0ff8a" fill-opacity="0.8"/>
<rect x="397.33" y="539.49" width="1.4" height="1.1" fill="#d0a8ff" fill-opacity="0.8"/>
<rect x="411.48" y="528.47" width="1.4" height="1.1" fill="#8fc4ff" fill-opacity="0.8"/>
<rect x="416.68" y="525.32" width="1.4" height="1.1" fill="#ff8a88" fill-opacity="0.8"/>
<rect x="421.88" y="531.42" width="1.4" height="1.1" fill="#e0ff8a" fill-opacity="0.8"/>
<rect x="427.08" y="532.41" width="1.4" height="1.1" fill="#d0a8ff" fill-opacity="0.8"/>
<rect x="441.23" y="527.42" width="1.4" height="1.1" fill="#8fc4ff" fill-opacity="0.8"/>
<rect x="446.43" y="528.47" width="1.4" height="1.1" fill="#ff8a88" fill-opacity="0.8"/>
<rect x="451.63" y="532.41" width="1.4" height="1.1" fill="#e0ff8a" fill-opacity="0.8"/>
<rect x="456.83" y="535.56" width="1.4" height="1.1" fill="#d0a8ff" fill-opacity="0.8"/>
<rect x="470.98" y="532.41" width="1.4" height="1.1" fill="#8fc4ff" fill-opacity="0.8"/>
<rect x="476.18" y="533.46" width="1.4" height="1.1" fill="#ff8a88" fill-opacity="0.8"/>
<rect x="481.38" y="537.46" width="1.4" height="1.1" fill="#e0ff8a" fill-opacity="0.8"/>
<rect x="486.58" y="528.47" width="1.4" height="1.1" fill="#d0a8ff" fill-opacity="0.8"/>
<rect x="500.73" y="533.46" width="1.4" height="1.1" fill="#8fc4ff" fill-opacity="0.8"/>
<rect x="505.93" y="531.42" width="1.4" height="1.1" fill="#ff8a88" fill-opacity="0.8"/>
<rect x="511.13" y="536.54" width="1.4" height="1.1" fill="#e0ff8a" fill-opacity="0.8"/>
<rect x="516.33" y="531.42" width="1.4" height="1.1" fill="#d0a8ff" fill-opacity="0.8"/>
<rect x="530.48" y="534.51" width="1.4" height="1.1" fill="#8fc4ff" fill-opacity="0.8"/>
<rect x="535.68" y="532.41" width="1.4" height="1.1" fill="#ff8a88" fill-opacity="0.8"/>
<rect x="540.88" y="537.46" width="1.4" height="1.1" fill="#e0ff8a" fill-opacity="0.8"/>
<rect x="546.08" y="535.56" width="1.4" height="1.1" fill="#d0a8ff" fill-opacity="0.8"/>
<rect x="560.23" y="544.55" width="1.4" height="1.1" fill="#8fc4ff" fill-opacity="0.8"/>
<rect x="565.43" y="542.45" width="1.4" height="1.1" fill="#ff8a88" fill-opacity="0.8"/>
<rect x="570.62" y="546.45" width="1.4" height="1.1" fill="#e0ff8a" fill-opacity="0.8"/>
<rect x="575.83" y="539.49" width="1.4" height="1.1" fill="#d0a8ff" fill-opacity="0.8"/>
<rect x="589.98" y="545.53" width="1.4" height="1.1" fill="#8fc4ff" fill-opacity="0.8"/>
<rect x="595.18" y="544.55" width="1.4" height="1.1" fill="#ff8a88" fill-opacity="0.8"/>
<rect x="600.38" y="548.48" width="1.4" height="1.1" fill="#e0ff8a" fill-opacity="0.8"/>
<rect x="605.58" y="549.53" width="1.4" height="1.1" fill="#d0a8ff" fill-opacity="0.8"/>
<rect x="619.73" y="547.50" width="1.4" height="1.1" fill="#8fc4ff" fill-opacity="0.8"/>
<rect x="624.93" y="547.50" width="1.4" height="1.1" fill="#ff8a88" fill-opacity="0.8"/>
<rect x="630.12" y="550.39" width="1.4" height="1.1" fill="#e0ff8a" fill-opacity="0.8"/>
<rect x="635.33" y="544.55" width="1.4" height="1.1" fill="#d0a8ff" fill-opacity="0.8"/>
<rect x="649.48" y="546.45" width="1.4" height="1.1" fill="#8fc4ff" fill-opacity="0.8"/>
<rect x="654.68" y="550.39" width="1.4" height="1.1" fill="#ff8a88" fill-opacity="0.8"/>
<rect x="659.88" y="553.54" width="1.4" height="1.1" fill="#e0ff8a" fill-opacity="0.8"/>
<rect x="665.08" y="551.44" width="1.4" height="1.1" fill="#d0a8ff" fill-opacity="0.8"/>
<rect x="679.23" y="550.39" width="1.4" height="1.1" fill="#8fc4ff" fill-opacity="0.8"/>
<rect x="684.43" y="549.53" width="1.4" height="1.1" fill="#ff8a88" fill-opacity="0.8"/>
<rect x="689.62" y="552.49" width="1.4" height="1.1" fill="#e0ff8a" fill-opacity="0.8"/>
<rect x="694.83" y="551.44" width="1.4" height="1.1" fill="#d0a8ff" fill-opacity="0.8"/>
<rect x="708.98" y="556.49" width="1.4" height="1.1" fill="#8fc4ff" fill-opacity="0.8"/>
<rect x="714.18" y="553.54" width="1.4" height="1.1" fill="#ff8a88" fill-opacity="0.8"/>
<rect x="719.38" y="556.49" width="1.4" height="1.1" fill="#e0ff8a" fill-opacity="0.8"/>
<rect x="724.58" y="538.44" width="1.4" height="1.1" fill="#d0a8ff" fill-opacity="0.8"/>
<rect x="738.73" y="552.49" width="1.4" height="1.1" fill="#8fc4ff" fill-opacity="0.8"/>
<rect x="743.93" y="550.39" width="1.4" height="1.1" fill="#ff8a88" fill-opacity="0.8"/>
<rect x="749.12" y="553.54" width="1.4" height="1.1" fill="#e0ff8a" fill-opacity="0.8"/>
<rect x="754.33" y="551.44" width="1.4" height="1.1" fill="#d0a8ff" fill-opacity="0.8"/>
<rect x="768.48" y="554.52" width="1.4" height="1.1" fill="#8fc4ff" fill-opacity="0.8"/>
<rect x="773.68" y="552.49" width="1.4" height="1.1" fill="#ff8a88" fill-opacity="0.8"/>
<rect x="778.88" y="556.49" width="1.4" height="1.1" fill="#e0ff8a" fill-opacity="0.8"/>
<rect x="784.08" y="550.39" width="1.4" height="1.1" fill="#d0a8ff" fill-opacity="0.8"/>
<rect x="798.23" y="558.52" width="1.4" height="1.1" fill="#8fc4ff" fill-opacity="0.8"/>
<rect x="803.43" y="556.49" width="1.4" height="1.1" fill="#ff8a88" fill-opacity="0.8"/>
<rect x="808.62" y="559.58" width="1.4" height="1.1" fill="#e0ff8a" fill-opacity="0.8"/>
<rect x="813.83" y="548.48" width="1.4" height="1.1" fill="#d0a8ff" fill-opacity="0.8"/>
<rect x="827.98" y="561.48" width="1.4" height="1.1" fill="#8fc4ff" fill-opacity="0.8"/>
<rect x="833.18" y="560.62" width="1.4" height="1.1" fill="#ff8a88" fill-opacity="0.8"/>
<rect x="838.38" y="562.53" width="1.4" height="1.1" fill="#e0ff8a" fill-opacity="0.8"/>
<rect x="843.58" y="547.50" width="1.4" height="1.1" fill="#d0a8ff" fill-opacity="0.8"/>
<rect x="857.73" y="559.58" width="1.4" height="1.1" fill="#8fc4ff" fill-opacity="0.8"/>
<rect x="862.93" y="557.48" width="1.4" height="1.1" fill="#ff8a88" fill-opacity="0.8"/>
<rect x="868.12" y="560.62" width="1.4" height="1.1" fill="#e0ff8a" fill-opacity="0.8"/>
<rect x="873.33" y="554.52" width="1.4" height="1.1" fill="#d0a8ff" fill-opacity="0.8"/>
<rect x="887.48" y="557.48" width="1.4" height="1.1" fill="#8fc4ff" fill-opacity="0.8"/>
<rect x="892.68" y="557.48" width="1.4" height="1.1" fill="#ff8a88" fill-opacity="0.8"/>
<rect x="897.88" y="559.58" width="1.4" height="1.1" fill="#e0ff8a" fill-opacity="0.8"/>
<rect x="903.08" y="559.58" width="1.4" height="1.1" fill="#d0a8ff" fill-opacity="0.8"/>
<rect x="917.23" y="561.48" width="1.4" height="1.1" fill="#8fc4ff" fill-opacity="0.8"/>
<rect x="922.43" y="560.62" width="1.4" height="1.1" fill="#ff8a88" fill-opacity="0.8"/>
<rect x="927.62" y="563.51" width="1.4" height="1.1" fill="#e0ff8a" fill-opacity="0.8"/>
<rect x="932.83" y="555.44" width="1.4" height="1.1" fill="#d0a8ff" fill-opacity="0.8"/>
<rect x="946.98" y="565.48" width="1.4" height="1.1" fill="#8fc4ff" fill-opacity="0.8"/>
<rect x="952.18" y="566.47" width="1.4" height="1.1" fill="#ff8a88" fill-opacity="0.8"/>
<rect x="957.38" y="568.57" width="1.4" height="1.1" fill="#e0ff8a" fill-opacity="0.8"/>
<rect x="962.58" y="542.45" width="1.4" height="1.1" fill="#d0a8ff" fill-opacity="0.8"/>
<rect x="976.73" y="568.57" width="1.4" height="1.1" fill="#8fc4ff" fill-opacity="0.8"/>
<rect x="981.93" y="562.53" width="1.4" height="1.1" fill="#ff8a88" fill-opacity="0.8"/>
<rect x="987.12" y="566.47" width="1.4" height="1.1" fill="#e0ff8a" fill-opacity="0.8"/>
<rect x="992.33" y="552.49" width="1.4" height="1.1" fill="#d0a8ff" fill-opacity="0.8"/>
<g filter="url(#sh)" opacity="0.42" transform="translate(1,2)"><polyline points="122.47,123.12 152.22,224.46 181.97,252.30 211.72,289.35 241.47,295.56 271.23,302.87 300.98,306.52 330.73,313.39 360.48,334.58 390.23,335.53 419.98,348.70 449.73,354.48 479.48,362.50 509.23,363.68 538.98,370.49 568.73,403.94 598.48,418.44 628.23,420.54 657.98,431.58 687.73,434.60 717.48,435.77 747.23,439.70 776.98,444.53 806.73,452.45 836.48,462.69 866.23,463.69 895.98,465.51 925.73,471.68 955.48,472.75 985.23,479.47" fill="none" stroke="#000" stroke-width="4" stroke-linejoin="round"/>
<circle cx="122.47" cy="123.12" r="8.2" fill="#000"/>
<circle cx="152.22" cy="224.46" r="8.2" fill="#000"/>
<circle cx="181.97" cy="252.30" r="8.2" fill="#000"/>
<circle cx="211.72" cy="289.35" r="8.2" fill="#000"/>
<circle cx="241.47" cy="295.56" r="8.2" fill="#000"/>
<circle cx="271.23" cy="302.87" r="8.2" fill="#000"/>
<circle cx="300.98" cy="306.52" r="8.2" fill="#000"/>
<circle cx="330.73" cy="313.39" r="8.2" fill="#000"/>
<circle cx="360.48" cy="334.58" r="8.2" fill="#000"/>
<circle cx="390.23" cy="335.53" r="8.2" fill="#000"/>
<circle cx="419.98" cy="348.70" r="8.2" fill="#000"/>
<circle cx="449.73" cy="354.48" r="8.2" fill="#000"/>
<circle cx="479.48" cy="362.50" r="8.2" fill="#000"/>
<circle cx="509.23" cy="363.68" r="8.2" fill="#000"/>
<circle cx="538.98" cy="370.49" r="8.2" fill="#000"/>
<circle cx="568.73" cy="403.94" r="8.2" fill="#000"/>
<circle cx="598.48" cy="418.44" r="8.2" fill="#000"/>
<circle cx="628.23" cy="420.54" r="8.2" fill="#000"/>
<circle cx="657.98" cy="431.58" r="8.2" fill="#000"/>
<circle cx="687.73" cy="434.60" r="8.2" fill="#000"/>
<circle cx="717.48" cy="435.77" r="8.2" fill="#000"/>
<circle cx="747.23" cy="439.70" r="8.2" fill="#000"/>
<circle cx="776.98" cy="444.53" r="8.2" fill="#000"/>
<circle cx="806.73" cy="452.45" r="8.2" fill="#000"/>
<circle cx="836.48" cy="462.69" r="8.2" fill="#000"/>
<circle cx="866.23" cy="463.69" r="8.2" fill="#000"/>
<circle cx="895.98" cy="465.51" r="8.2" fill="#000"/>
<circle cx="925.73" cy="471.68" r="8.2" fill="#000"/>
<circle cx="955.48" cy="472.75" r="8.2" fill="#000"/>
<circle cx="985.23" cy="479.47" r="8.2" fill="#000"/>
</g>
<polyline points="122.47,123.12 152.22,224.46 181.97,252.30 211.72,289.35 241.47,295.56 271.23,302.87 300.98,306.52 330.73,313.39 360.48,334.58 390.23,335.53 419.98,348.70 449.73,354.48 479.48,362.50 509.23,363.68 538.98,370.49 568.73,403.94 598.48,418.44 628.23,420.54 657.98,431.58 687.73,434.60 717.48,435.77 747.23,439.70 776.98,444.53 806.73,452.45 836.48,462.69 866.23,463.69 895.98,465.51 925.73,471.68 955.48,472.75 985.23,479.47" fill="none" stroke="#968d56" stroke-width="4" stroke-linejoin="round" stroke-linecap="round"/>
<circle cx="122.47" cy="123.12" r="8.1" fill="url(#mk)" stroke="#5e5632" stroke-width="0.8"/>
<circle cx="152.22" cy="224.46" r="8.1" fill="url(#mk)" stroke="#5e5632" stroke-width="0.8"/>
<circle cx="181.97" cy="252.30" r="8.1" fill="url(#mk)" stroke="#5e5632" stroke-width="0.8"/>
<circle cx="211.72" cy="289.35" r="8.1" fill="url(#mk)" stroke="#5e5632" stroke-width="0.8"/>
<circle cx="241.47" cy="295.56" r="8.1" fill="url(#mk)" stroke="#5e5632" stroke-width="0.8"/>
<circle cx="271.23" cy="302.87" r="8.1" fill="url(#mk)" stroke="#5e5632" stroke-width="0.8"/>
<circle cx="300.98" cy="306.52" r="8.1" fill="url(#mk)" stroke="#5e5632" stroke-width="0.8"/>
<circle cx="330.73" cy="313.39" r="8.1" fill="url(#mk)" stroke="#5e5632" stroke-width="0.8"/>
<circle cx="360.48" cy="334.58" r="8.1" fill="url(#mk)" stroke="#5e5632" stroke-width="0.8"/>
<circle cx="390.23" cy="335.53" r="8.1" fill="url(#mk)" stroke="#5e5632" stroke-width="0.8"/>
<circle cx="419.98" cy="348.70" r="8.1" fill="url(#mk)" stroke="#5e5632" stroke-width="0.8"/>
<circle cx="449.73" cy="354.48" r="8.1" fill="url(#mk)" stroke="#5e5632" stroke-width="0.8"/>
<circle cx="479.48" cy="362.50" r="8.1" fill="url(#mk)" stroke="#5e5632" stroke-width="0.8"/>
<circle cx="509.23" cy="363.68" r="8.1" fill="url(#mk)" stroke="#5e5632" stroke-width="0.8"/>
<circle cx="538.98" cy="370.49" r="8.1" fill="url(#mk)" stroke="#5e5632" stroke-width="0.8"/>
<circle cx="568.73" cy="403.94" r="8.1" fill="url(#mk)" stroke="#5e5632" stroke-width="0.8"/>
<circle cx="598.48" cy="418.44" r="8.1" fill="url(#mk)" stroke="#5e5632" stroke-width="0.8"/>
<circle cx="628.23" cy="420.54" r="8.1" fill="url(#mk)" stroke="#5e5632" stroke-width="0.8"/>
<circle cx="657.98" cy="431.58" r="8.1" fill="url(#mk)" stroke="#5e5632" stroke-width="0.8"/>
<circle cx="687.73" cy="434.60" r="8.1" fill="url(#mk)" stroke="#5e5632" stroke-width="0.8"/>
<circle cx="717.48" cy="435.77" r="8.1" fill="url(#mk)" stroke="#5e5632" stroke-width="0.8"/>
<circle cx="747.23" cy="439.70" r="8.1" fill="url(#mk)" stroke="#5e5632" stroke-width="0.8"/>
<circle cx="776.98" cy="444.53" r="8.1" fill="url(#mk)" stroke="#5e5632" stroke-width="0.8"/>
<circle cx="806.73" cy="452.45" r="8.1" fill="url(#mk)" stroke="#5e5632" stroke-width="0.8"/>
<circle cx="836.48" cy="462.69" r="8.1" fill="url(#mk)" stroke="#5e5632" stroke-width="0.8"/>
<circle cx="866.23" cy="463.69" r="8.1" fill="url(#mk)" stroke="#5e5632" stroke-width="0.8"/>
<circle cx="895.98" cy="465.51" r="8.1" fill="url(#mk)" stroke="#5e5632" stroke-width="0.8"/>
<circle cx="925.73" cy="471.68" r="8.1" fill="url(#mk)" stroke="#5e5632" stroke-width="0.8"/>
<circle cx="955.48" cy="472.75" r="8.1" fill="url(#mk)" stroke="#5e5632" stroke-width="0.8"/>
<circle cx="985.23" cy="479.47" r="8.1" fill="url(#mk)" stroke="#5e5632" stroke-width="0.8"/>
<text transform="translate(122.17 617.00) scale(1.080 1)" font-size="16" fill="#595959" text-anchor="middle">유</text>
<text transform="translate(122.17 634.00) scale(1.080 1)" font-size="16" fill="#595959" text-anchor="middle">해</text>
<text transform="translate(122.17 651.00) scale(1.080 1)" font-size="16" fill="#595959" text-anchor="middle">진</text>
<text transform="translate(122.77 687.00) scale(1.060 1)" font-size="13.8" fill="#595959" text-anchor="middle">1</text>
<text transform="translate(151.92 617.00) scale(1.080 1)" font-size="16" fill="#595959" text-anchor="middle">박</text>
<text transform="translate(151.92 634.00) scale(1.080 1)" font-size="16" fill="#595959" text-anchor="middle">지</text>
<text transform="translate(151.92 651.00) scale(1.080 1)" font-size="16" fill="#595959" text-anchor="middle">훈</text>
<text transform="translate(152.53 687.00) scale(1.060 1)" font-size="13.8" fill="#595959" text-anchor="middle">2</text>
<text transform="translate(181.67 617.00) scale(1.080 1)" font-size="16" fill="#595959" text-anchor="middle">박</text>
<text transform="translate(181.67 634.00) scale(1.080 1)" font-size="16" fill="#595959" text-anchor="middle">신</text>
<text transform="translate(181.67 651.00) scale(1.080 1)" font-size="16" fill="#595959" text-anchor="middle">혜</text>
<text transform="translate(182.28 687.00) scale(1.060 1)" font-size="13.8" fill="#595959" text-anchor="middle">3</text>
<text transform="translate(211.42 617.00) scale(1.080 1)" font-size="16" fill="#595959" text-anchor="middle">이</text>
<text transform="translate(211.42 634.00) scale(1.080 1)" font-size="16" fill="#595959" text-anchor="middle">성</text>
<text transform="translate(211.42 651.00) scale(1.080 1)" font-size="16" fill="#595959" text-anchor="middle">민</text>
<text transform="translate(212.03 687.00) scale(1.060 1)" font-size="13.8" fill="#595959" text-anchor="middle">4</text>
<text transform="translate(241.17 617.00) scale(1.080 1)" font-size="16" fill="#595959" text-anchor="middle">고</text>
<text transform="translate(241.17 634.00) scale(1.080 1)" font-size="16" fill="#595959" text-anchor="middle">윤</text>
<text transform="translate(241.17 651.00) scale(1.080 1)" font-size="16" fill="#595959" text-anchor="middle">정</text>
<text transform="translate(241.78 687.00) scale(1.060 1)" font-size="13.8" fill="#595959" text-anchor="middle">5</text>
<text transform="translate(270.93 617.00) scale(1.080 1)" font-size="16" fill="#595959" text-anchor="middle">하</text>
<text transform="translate(270.93 634.00) scale(1.080 1)" font-size="16" fill="#595959" text-anchor="middle">정</text>
<text transform="translate(270.93 651.00) scale(1.080 1)" font-size="16" fill="#595959" text-anchor="middle">우</text>
<text transform="translate(271.53 687.00) scale(1.060 1)" font-size="13.8" fill="#595959" text-anchor="middle">6</text>
<text transform="translate(300.68 617.00) scale(1.080 1)" font-size="16" fill="#595959" text-anchor="middle">구</text>
<text transform="translate(300.68 634.00) scale(1.080 1)" font-size="16" fill="#595959" text-anchor="middle">교</text>
<text transform="translate(300.68 651.00) scale(1.080 1)" font-size="16" fill="#595959" text-anchor="middle">환</text>
<text transform="translate(301.28 687.00) scale(1.060 1)" font-size="13.8" fill="#595959" text-anchor="middle">7</text>
<text transform="translate(330.43 617.00) scale(1.080 1)" font-size="16" fill="#595959" text-anchor="middle">박</text>
<text transform="translate(330.43 634.00) scale(1.080 1)" font-size="16" fill="#595959" text-anchor="middle">정</text>
<text transform="translate(330.43 651.00) scale(1.080 1)" font-size="16" fill="#595959" text-anchor="middle">민</text>
<text transform="translate(331.03 687.00) scale(1.060 1)" font-size="13.8" fill="#595959" text-anchor="middle">8</text>
<text transform="translate(360.18 617.00) scale(1.080 1)" font-size="16" fill="#595959" text-anchor="middle">문</text>
<text transform="translate(360.18 634.00) scale(1.080 1)" font-size="16" fill="#595959" text-anchor="middle">상</text>
<text transform="translate(360.18 651.00) scale(1.080 1)" font-size="16" fill="#595959" text-anchor="middle">민</text>
<text transform="translate(360.78 687.00) scale(1.060 1)" font-size="13.8" fill="#595959" text-anchor="middle">9</text>
<text transform="translate(389.93 617.00) scale(1.080 1)" font-size="16" fill="#595959" text-anchor="middle">문</text>
<text transform="translate(389.93 634.00) scale(1.080 1)" font-size="16" fill="#595959" text-anchor="middle">가</text>
<text transform="translate(389.93 651.00) scale(1.080 1)" font-size="16" fill="#595959" text-anchor="middle">영</text>
<text transform="translate(390.33 687.00) scale(1.060 1)" font-size="13.8" fill="#595959" text-anchor="middle">10</text>
<text transform="translate(419.68 617.00) scale(1.080 1)" font-size="16" fill="#595959" text-anchor="middle">진</text>
<text transform="translate(419.68 634.00) scale(1.080 1)" font-size="16" fill="#595959" text-anchor="middle">세</text>
<text transform="translate(419.68 651.00) scale(1.080 1)" font-size="16" fill="#595959" text-anchor="middle">연</text>
<text transform="translate(420.08 687.00) scale(1.060 1)" font-size="13.8" fill="#595959" text-anchor="middle">11</text>
<text transform="translate(449.43 617.00) scale(1.080 1)" font-size="16" fill="#595959" text-anchor="middle">이</text>
<text transform="translate(449.43 634.00) scale(1.080 1)" font-size="16" fill="#595959" text-anchor="middle">이</text>
<text transform="translate(449.43 651.00) scale(1.080 1)" font-size="16" fill="#595959" text-anchor="middle">담</text>
<text transform="translate(449.83 687.00) scale(1.060 1)" font-size="13.8" fill="#595959" text-anchor="middle">12</text>
<text transform="translate(479.18 617.00) scale(1.080 1)" font-size="16" fill="#595959" text-anchor="middle">이</text>
<text transform="translate(479.18 634.00) scale(1.080 1)" font-size="16" fill="#595959" text-anchor="middle">주</text>
<text transform="translate(479.18 651.00) scale(1.080 1)" font-size="16" fill="#595959" text-anchor="middle">빈</text>
<text transform="translate(479.58 687.00) scale(1.060 1)" font-size="13.8" fill="#595959" text-anchor="middle">13</text>
<text transform="translate(508.93 617.00) scale(1.080 1)" font-size="16" fill="#595959" text-anchor="middle">김</text>
<text transform="translate(508.93 634.00) scale(1.080 1)" font-size="16" fill="#595959" text-anchor="middle">고</text>
<text transform="translate(508.93 651.00) scale(1.080 1)" font-size="16" fill="#595959" text-anchor="middle">은</text>
<text transform="translate(509.33 687.00) scale(1.060 1)" font-size="13.8" fill="#595959" text-anchor="middle">14</text>
<text transform="translate(538.68 617.00) scale(1.080 1)" font-size="16" fill="#595959" text-anchor="middle">로</text>
<text transform="translate(538.68 634.00) scale(1.080 1)" font-size="16" fill="#595959" text-anchor="middle">몬</text>
<text transform="translate(539.08 687.00) scale(1.060 1)" font-size="13.8" fill="#595959" text-anchor="middle">15</text>
<text transform="translate(568.43 617.00) scale(1.080 1)" font-size="16" fill="#595959" text-anchor="middle">유</text>
<text transform="translate(568.43 634.00) scale(1.080 1)" font-size="16" fill="#595959" text-anchor="middle">지</text>
<text transform="translate(568.43 651.00) scale(1.080 1)" font-size="16" fill="#595959" text-anchor="middle">태</text>
<text transform="translate(568.83 687.00) scale(1.060 1)" font-size="13.8" fill="#595959" text-anchor="middle">16</text>
<text transform="translate(598.18 617.00) scale(1.080 1)" font-size="16" fill="#595959" text-anchor="middle">조</text>
<text transform="translate(598.18 634.00) scale(1.080 1)" font-size="16" fill="#595959" text-anchor="middle">한</text>
<text transform="translate(598.18 651.00) scale(1.080 1)" font-size="16" fill="#595959" text-anchor="middle">결</text>
<text transform="translate(598.58 687.00) scale(1.060 1)" font-size="13.8" fill="#595959" text-anchor="middle">17</text>
<text transform="translate(627.93 617.00) scale(1.080 1)" font-size="16" fill="#595959" text-anchor="middle">안</text>
<text transform="translate(627.93 634.00) scale(1.080 1)" font-size="16" fill="#595959" text-anchor="middle">보</text>
<text transform="translate(627.93 651.00) scale(1.080 1)" font-size="16" fill="#595959" text-anchor="middle">현</text>
<text transform="translate(628.33 687.00) scale(1.060 1)" font-size="13.8" fill="#595959" text-anchor="middle">18</text>
<text transform="translate(657.68 617.00) scale(1.080 1)" font-size="16" fill="#595959" text-anchor="middle">원</text>
<text transform="translate(657.68 634.00) scale(1.080 1)" font-size="16" fill="#595959" text-anchor="middle">지</text>
<text transform="translate(657.68 651.00) scale(1.080 1)" font-size="16" fill="#595959" text-anchor="middle">안</text>
<text transform="translate(658.08 687.00) scale(1.060 1)" font-size="13.8" fill="#595959" text-anchor="middle">19</text>
<text transform="translate(687.43 617.00) scale(1.080 1)" font-size="16" fill="#595959" text-anchor="middle">남</text>
<text transform="translate(687.43 634.00) scale(1.080 1)" font-size="16" fill="#595959" text-anchor="middle">지</text>
<text transform="translate(687.43 651.00) scale(1.080 1)" font-size="16" fill="#595959" text-anchor="middle">현</text>
<text transform="translate(687.83 687.00) scale(1.060 1)" font-size="13.8" fill="#595959" text-anchor="middle">20</text>
<text transform="translate(717.18 617.00) scale(1.080 1)" font-size="16" fill="#595959" text-anchor="middle">지</text>
<text transform="translate(717.18 634.00) scale(1.080 1)" font-size="16" fill="#595959" text-anchor="middle">성</text>
<text transform="translate(717.58 687.00) scale(1.060 1)" font-size="13.8" fill="#595959" text-anchor="middle">21</text>
<text transform="translate(746.93 617.00) scale(1.080 1)" font-size="16" fill="#595959" text-anchor="middle">박</text>
<text transform="translate(746.93 634.00) scale(1.080 1)" font-size="16" fill="#595959" text-anchor="middle">시</text>
<text transform="translate(746.93 651.00) scale(1.080 1)" font-size="16" fill="#595959" text-anchor="middle">후</text>
<text transform="translate(747.33 687.00) scale(1.060 1)" font-size="13.8" fill="#595959" text-anchor="middle">22</text>
<text transform="translate(776.68 617.00) scale(1.080 1)" font-size="16" fill="#595959" text-anchor="middle">이</text>
<text transform="translate(776.68 634.00) scale(1.080 1)" font-size="16" fill="#595959" text-anchor="middle">준</text>
<text transform="translate(776.68 651.00) scale(1.080 1)" font-size="16" fill="#595959" text-anchor="middle">혁</text>
<text transform="translate(777.08 687.00) scale(1.060 1)" font-size="13.8" fill="#595959" text-anchor="middle">23</text>
<text transform="translate(806.43 617.00) scale(1.080 1)" font-size="16" fill="#595959" text-anchor="middle">현</text>
<text transform="translate(806.43 634.00) scale(1.080 1)" font-size="16" fill="#595959" text-anchor="middle">빈</text>
<text transform="translate(806.83 687.00) scale(1.060 1)" font-size="13.8" fill="#595959" text-anchor="middle">24</text>
<text transform="translate(836.18 617.00) scale(1.080 1)" font-size="16" fill="#595959" text-anchor="middle">이</text>
<text transform="translate(836.18 634.00) scale(1.080 1)" font-size="16" fill="#595959" text-anchor="middle">제</text>
<text transform="translate(836.18 651.00) scale(1.080 1)" font-size="16" fill="#595959" text-anchor="middle">훈</text>
<text transform="translate(836.58 687.00) scale(1.060 1)" font-size="13.8" fill="#595959" text-anchor="middle">25</text>
<text transform="translate(865.93 617.00) scale(1.080 1)" font-size="16" fill="#595959" text-anchor="middle">조</text>
<text transform="translate(865.93 634.00) scale(1.080 1)" font-size="16" fill="#595959" text-anchor="middle">인</text>
<text transform="translate(865.93 651.00) scale(1.080 1)" font-size="16" fill="#595959" text-anchor="middle">성</text>
<text transform="translate(866.33 687.00) scale(1.060 1)" font-size="13.8" fill="#595959" text-anchor="middle">26</text>
<text transform="translate(895.68 617.00) scale(1.080 1)" font-size="16" fill="#595959" text-anchor="middle">하</text>
<text transform="translate(895.68 634.00) scale(1.080 1)" font-size="16" fill="#595959" text-anchor="middle">윤</text>
<text transform="translate(895.68 651.00) scale(1.080 1)" font-size="16" fill="#595959" text-anchor="middle">경</text>
<text transform="translate(896.08 687.00) scale(1.060 1)" font-size="13.8" fill="#595959" text-anchor="middle">27</text>
<text transform="translate(925.43 617.00) scale(1.080 1)" font-size="16" fill="#595959" text-anchor="middle">김</text>
<text transform="translate(925.43 634.00) scale(1.080 1)" font-size="16" fill="#595959" text-anchor="middle">지</text>
<text transform="translate(925.43 651.00) scale(1.080 1)" font-size="16" fill="#595959" text-anchor="middle">영</text>
<text transform="translate(925.83 687.00) scale(1.060 1)" font-size="13.8" fill="#595959" text-anchor="middle">28</text>
<text transform="translate(955.18 617.00) scale(1.080 1)" font-size="16" fill="#595959" text-anchor="middle">김</text>
<text transform="translate(955.18 634.00) scale(1.080 1)" font-size="16" fill="#595959" text-anchor="middle">혜</text>
<text transform="translate(955.18 651.00) scale(1.080 1)" font-size="16" fill="#595959" text-anchor="middle">수</text>
<text transform="translate(955.58 687.00) scale(1.060 1)" font-size="13.8" fill="#595959" text-anchor="middle">29</text>
<text transform="translate(984.93 617.00) scale(1.080 1)" font-size="16" fill="#595959" text-anchor="middle">이</text>
<text transform="translate(984.93 634.00) scale(1.080 1)" font-size="16" fill="#595959" text-anchor="middle">병</text>
<text transform="translate(984.93 651.00) scale(1.080 1)" font-size="16" fill="#595959" text-anchor="middle">헌</text>
<text transform="translate(985.33 687.00) scale(1.060 1)" font-size="13.8" fill="#595959" text-anchor="middle">30</text>
<rect x="816.5" y="83.5" width="173" height="260" fill="#fff" stroke="#000" stroke-width="1"/>
<linearGradient id="slb" x1="0" y1="0" x2="0" y2="1"><stop offset="0" stop-color="#74b8ff"/><stop offset="1" stop-color="#4e92e4"/></linearGradient>
<linearGradient id="sdb" x1="0" y1="0" x2="0" y2="1"><stop offset="0" stop-color="#4180d0"/><stop offset="0.5" stop-color="#4180d0"/><stop offset="0.55" stop-color="#3b6fb2"/><stop offset="0.8" stop-color="#3b6fb2"/><stop offset="0.86" stop-color="#2b548c"/><stop offset="1" stop-color="#2b548c"/></linearGradient>
<rect x="835" y="105.0" width="26" height="10" fill="url(#sdb)"/>
<polygon points="835.6,105.5 860.4,105.5 856.8,110.3 839.0,110.3" fill="url(#slb)"/>
<rect x="860.2" y="105.0" width="0.8" height="10" fill="#1e3f70" fill-opacity="0.7"/>
<text transform="translate(863.90 115.80) scale(1.120 1)" font-size="15.3" fill="#595959" letter-spacing="0.30">참여지수</text>
<linearGradient id="slr" x1="0" y1="0" x2="0" y2="1"><stop offset="0" stop-color="#ff908e"/><stop offset="1" stop-color="#ee6866"/></linearGradient>
<linearGradient id="sdr" x1="0" y1="0" x2="0" y2="1"><stop offset="0" stop-color="#c9403e"/><stop offset="0.5" stop-color="#c9403e"/><stop offset="0.55" stop-color="#b23c3a"/><stop offset="0.8" stop-color="#b23c3a"/><stop offset="0.86" stop-color="#80302e"/><stop offset="1" stop-color="#80302e"/></linearGradient>
<rect x="835" y="157.0" width="26" height="10" fill="url(#sdr)"/>
<polygon points="835.6,157.5 860.4,157.5 856.8,162.3 839.0,162.3" fill="url(#slr)"/>
<rect x="860.2" y="157.0" width="0.8" height="10" fill="#661c1a" fill-opacity="0.7"/>
<text transform="translate(863.90 167.80) scale(1.120 1)" font-size="15.3" fill="#595959" letter-spacing="0.30">미디어지수</text>
<linearGradient id="slg" x1="0" y1="0" x2="0" y2="1"><stop offset="0" stop-color="#deff8e"/><stop offset="1" stop-color="#c4ee74"/></linearGradient>
<linearGradient id="sdg" x1="0" y1="0" x2="0" y2="1"><stop offset="0" stop-color="#98ca48"/><stop offset="0.5" stop-color="#98ca48"/><stop offset="0.55" stop-color="#88ac42"/><stop offset="0.8" stop-color="#88ac42"/><stop offset="0.86" stop-color="#66863a"/><stop offset="1" stop-color="#66863a"/></linearGradient>
<rect x="835" y="209.0" width="26" height="10" fill="url(#sdg)"/>
<polygon points="835.6,209.5 860.4,209.5 856.8,214.3 839.0,214.3" fill="url(#slg)"/>
<rect x="860.2" y="209.0" width="0.8" height="10" fill="#4a6418" fill-opacity="0.7"/>
<text transform="translate(863.90 219.80) scale(1.120 1)" font-size="15.3" fill="#595959" letter-spacing="0.30">소통지수</text>
<linearGradient id="slp" x1="0" y1="0" x2="0" y2="1"><stop offset="0" stop-color="#d0a8ff"/><stop offset="1" stop-color="#ae88e2"/></linearGradient>
<linearGradient id="sdp" x1="0" y1="0" x2="0" y2="1"><stop offset="0" stop-color="#8662ba"/><stop offset="0.5" stop-color="#8662ba"/><stop offset="0.55" stop-color="#76529e"/><stop offset="0.8" stop-color="#76529e"/><stop offset="0.86" stop-color="#553878"/><stop offset="1" stop-color="#553878"/></linearGradient>
<rect x="835" y="261.0" width="26" height="10" fill="url(#sdp)"/>
<polygon points="835.6,261.5 860.4,261.5 856.8,266.3 839.0,266.3" fill="url(#slp)"/>
<rect x="860.2" y="261.0" width="0.8" height="10" fill="#3c2460" fill-opacity="0.7"/>
<text transform="translate(863.90 271.80) scale(1.120 1)" font-size="15.3" fill="#595959" letter-spacing="0.30">커뮤니티지수</text>
<line x1="835" y1="318" x2="861" y2="318" stroke="#968d56" stroke-width="4" stroke-linecap="round"/>
<circle cx="847.5" cy="316.5" r="5.2" fill="url(#mk)" stroke="#6f673d" stroke-width="0.5"/>
<text transform="translate(863.90 323.80) scale(1.120 1)" font-size="15.3" fill="#595959" letter-spacing="0.30">브랜드평판지수</text>
</svg></body></html>
